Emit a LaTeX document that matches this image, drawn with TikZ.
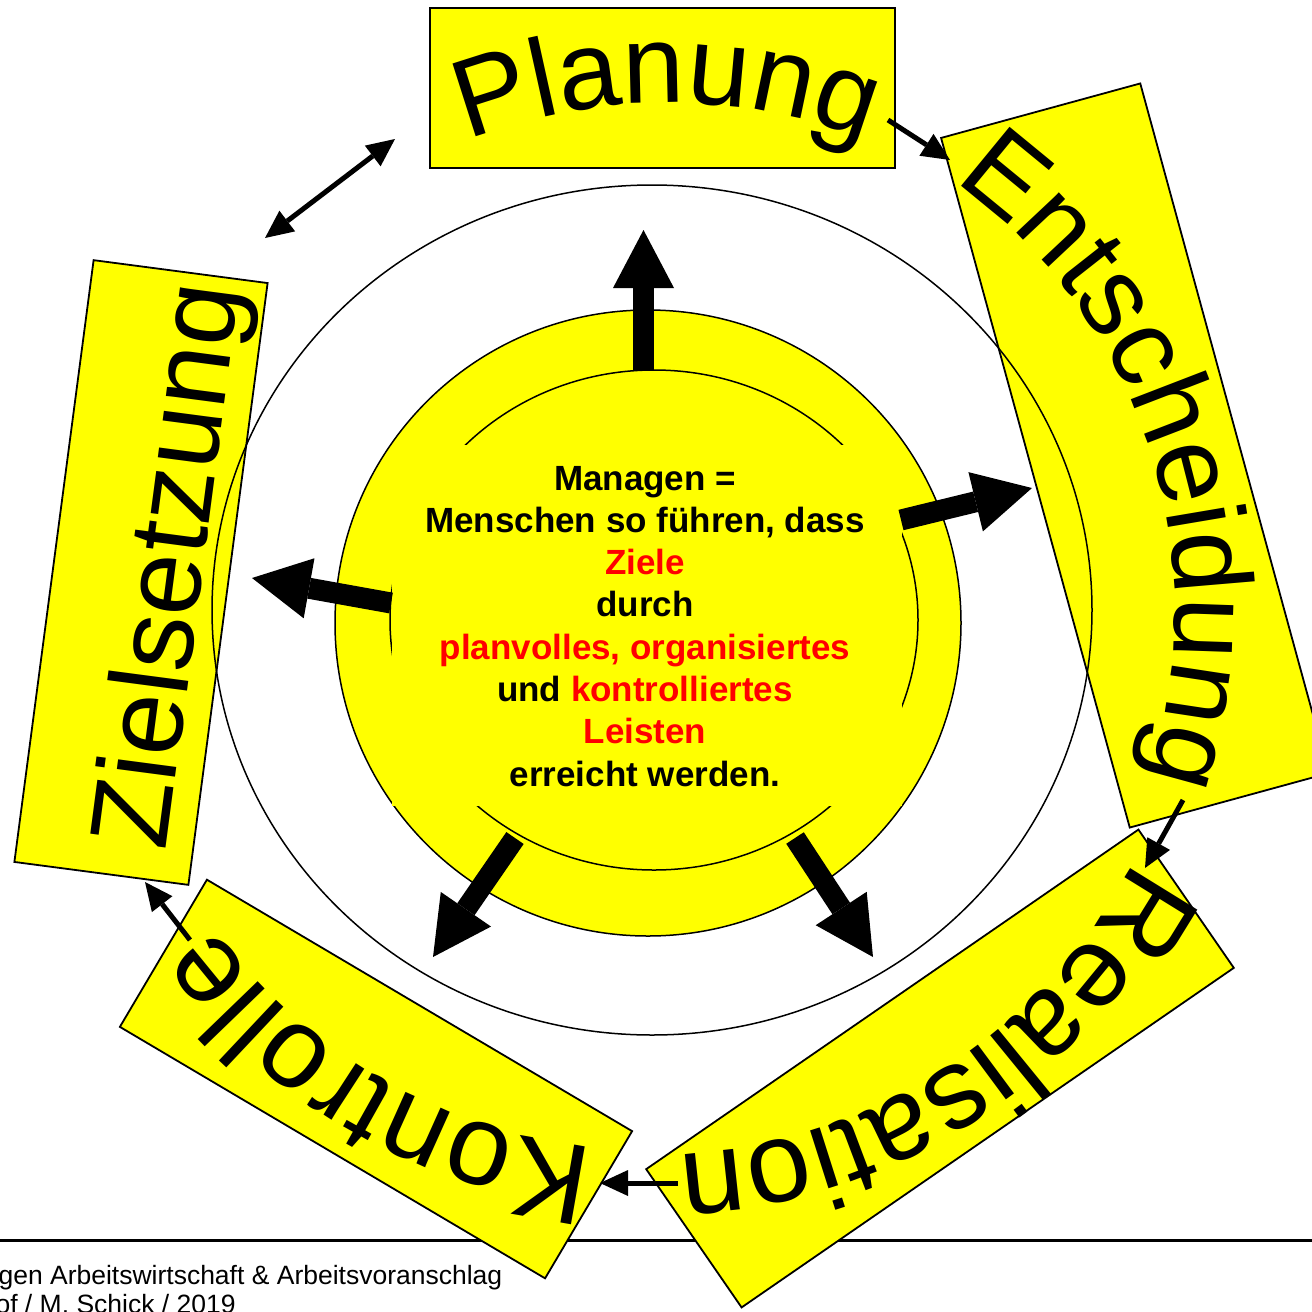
\documentclass[tikz,border=0pt]{standalone}
\usepackage{fontspec}
\setmainfont{Liberation Sans}
\usetikzlibrary{arrows.meta,decorations.text}
\definecolor{boxyellow}{RGB}{255,255,0}
\definecolor{txtred}{RGB}{255,0,0}
\newcommand\wordfont{\fontsize{115}{130}\selectfont}
\newcommand\wordfontsmall{\fontsize{111}{125}\selectfont}
\newcommand\midfont{\fontsize{35}{42}\selectfont\bfseries}
\newcommand\footfont{\fontsize{26.5}{30}\selectfont}
\begin{document}
\begin{tikzpicture}[x=1pt,y=1pt,
  box/.style={draw=black, fill=boxyellow, line width=1.8pt, inner sep=0pt, outer sep=0pt},
  thickarrow/.style={line width=21pt, -{Triangle[length=58pt,width=61pt,line width=0pt]}},
  link/.style={line width=5pt, -{Triangle[length=28pt,width=26pt,line width=0pt]}},
  biglink/.style={line width=5pt, {Triangle[length=28pt,width=26pt,line width=0pt]}-{Triangle[length=28pt,width=26pt,line width=0pt]}},
  arcword/.style={decorate, decoration={text along path, text align=center, text={|\wordfont|#1}}},
  arcwordsmall/.style={decorate, decoration={text along path, text align=center, text={|\wordfontsmall|#1}}},
  midline/.style={anchor=base, font=\midfont},
  footline/.style={anchor=base west, font=\footfont},
]
\useasboundingbox (0,0) rectangle (1312,-1312);
\clip (0,0) rectangle (1312,-1312);

% footer
\draw[line width=3pt] (0,-1240) -- (1312,-1240);
\node[footline] (foot1) at (-5,-1284) {gen Arbeitswirtschaft \& Arbeitsvoranschlag};
\node[footline] (foot2) at (-8,-1313) {of / M. Schick / 2019};

% boxes
\node[box, minimum width=465pt, minimum height=160pt] (plan) at (662.5,-88) {};
\node[box, rotate=-74.7, minimum width=715pt, minimum height=206.5pt] (ent) at (1135,-455.5) {};
\node[box, rotate=34.6, minimum width=598pt, minimum height=168pt] (real) at (940,-1068.5) {};
\node[box, rotate=-30.6, minimum width=494pt, minimum height=171pt] (kon) at (376,-1079) {};
\node[box, rotate=82.5, minimum width=607pt, minimum height=175.5pt] (ziel) at (141,-572.5) {};

% outer thin ring
\draw[line width=1.5pt] (652,-610) ellipse [x radius=440, y radius=425];

% yellow core
\node[circle, draw, fill=boxyellow, line width=1.5pt, minimum size=626pt, inner sep=0pt] (core) at (648,-623) {};
\draw[line width=1.5pt] (654,-620) ellipse [x radius=264, y radius=250];
\fill[boxyellow] (392,-445) rectangle (902,-806);

% thick arrows
\coordinate (tA0) at (643.5,-371); \coordinate (tA1) at (643.5,-230);
\coordinate (tB0) at (901,-520);   \coordinate (tB1) at (1032,-488);
\coordinate (tC0) at (391,-603);   \coordinate (tC1) at (252,-578);
\coordinate (tD0) at (515,-838);   \coordinate (tD1) at (433,-957);
\coordinate (tE0) at (795,-838);   \coordinate (tE1) at (873,-957);
\draw[thickarrow] (tA0) -- (tA1);
\draw[thickarrow] (tB0) -- (tB1);
\draw[thickarrow] (tC0) -- (tC1);
\draw[thickarrow] (tD0) -- (tD1);
\draw[thickarrow] (tE0) -- (tE1);

% words
\path[arcwordsmall={Planung}] (667,-643) ++(150:540) arc[start angle=150, end angle=30, radius=540];
\path[arcwordsmall={Entscheidung}] (650,-610) ++(78:525) arc[start angle=78, end angle=-42, radius=525];
\path[arcword={Realisation}] (650,-610) ++(2.8:545) arc[start angle=2.8, end angle=-117.2, radius=545];
\path[arcword={Kontrolle}] (650,-610) ++(300:540) arc[start angle=300, end angle=180, radius=540];
\node[rotate=82.5, anchor=base, font=\wordfontsmall, inner sep=0pt] (zieltext) at (203,-570) {Zielsetzung};

% connectors between boxes
\coordinate (p1) at (888,-120);  \coordinate (e1) at (950,-160);
\coordinate (e2) at (1183,-800); \coordinate (r1) at (1145,-868);
\coordinate (r2) at (678,-1183); \coordinate (k1) at (600,-1183);
\coordinate (k2) at (190,-940);  \coordinate (z1) at (145,-882);
\coordinate (z2) at (265,-238);  \coordinate (p2) at (395,-139);
\draw[link] (p1) -- (e1);
\draw[link] (e2) -- (r1);
\draw[link] (r2) -- (k1);
\draw[link] (k2) -- (z1);
\draw[biglink] (z2) -- (p2);

% centre text
\node[midline] (m1) at (645,-490) {Managen =};
\node[midline] (m2) at (645,-532) {Menschen so führen, dass};
\node[midline, text=txtred] (m3) at (645,-574) {Ziele};
\node[midline] (m4) at (645,-616) {durch};
\node[midline, text=txtred] (m5) at (645,-659) {planvolles, organisiertes};
\node[midline] (m6) at (645,-701) {und \textcolor{txtred}{kontrolliertes}};
\node[midline, text=txtred] (m7) at (645,-743) {Leisten};
\node[midline] (m8) at (645,-786) {erreicht werden.};
\end{tikzpicture}
\end{document}
